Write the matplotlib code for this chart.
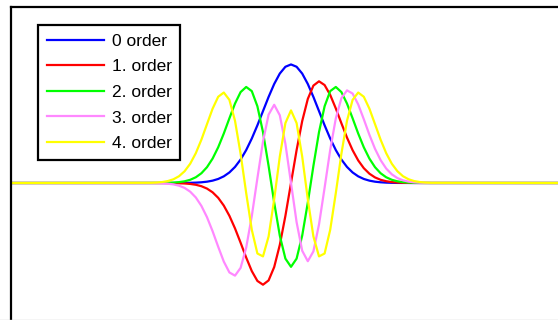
import matplotlib
matplotlib.use("Agg")
import matplotlib.pyplot as plt
from matplotlib.lines import Line2D

plt.rcParams['font.family'] = ['Liberation Sans', 'DejaVu Sans']

labels = ["0 order", "1. order", "2. order", "3. order", "4. order"]
colors = ["#0000ff", "#ff0000", "#00ff00", "#ff88ff", "#ffff00"]

x = [-10.0,
     -5.0, -4.8, -4.6, -4.4, -4.2, -4.0, -3.8, -3.6, -3.4, -3.2, -3.0, -2.8, -2.6,
     -2.4, -2.2, -2.0, -1.8, -1.6, -1.4, -1.2, -1.0, -0.8, -0.6, -0.4, -0.2, 0.0,
     0.2, 0.4, 0.6, 0.8, 1.0, 1.2, 1.4, 1.6, 1.8, 2.0, 2.2, 2.4, 2.6, 2.8, 3.0,
     3.2, 3.4, 3.6, 3.8, 4.0, 4.2, 4.4, 4.6, 4.8, 5.0,
     10.0]

order0 = [0.0,
          0.0, 0.0, 0.0, 0.0, 0.0001, 0.0003, 0.0005, 0.0012, 0.0023, 0.0045, 0.0083,
          0.0149, 0.0256, 0.0422, 0.0668, 0.1017, 0.1486, 0.2088, 0.2819, 0.3656,
          0.4556, 0.5454, 0.6274, 0.6934, 0.7363, 0.7511,
          0.7363, 0.6934, 0.6274, 0.5454, 0.4556, 0.3656, 0.2819, 0.2088, 0.1486,
          0.1017, 0.0668, 0.0422, 0.0256, 0.0149, 0.0083, 0.0045, 0.0023, 0.0012,
          0.0005, 0.0003, 0.0001, 0.0, 0.0, 0.0, 0.0,
          0.0]

order1 = [0.0,
          -0.0, -0.0001, -0.0001, -0.0003, -0.0007, -0.0014, -0.0030, -0.0059, -0.0112,
          -0.0203, -0.0354, -0.0590, -0.0940, -0.1431, -0.2078, -0.2875, -0.3784,
          -0.4725, -0.5581, -0.6205, -0.6443, -0.6171, -0.5324, -0.3922, -0.2083, 0.0,
          0.2083, 0.3922, 0.5324, 0.6171, 0.6443, 0.6205, 0.5581, 0.4725, 0.3784,
          0.2875, 0.2078, 0.1431, 0.0940, 0.0590, 0.0354, 0.0203, 0.0112, 0.0059,
          0.0030, 0.0014, 0.0007, 0.0003, 0.0001, 0.0001, 0.0,
          0.0]

order2 = [0.0,
          0.0001, 0.0002, 0.0006, 0.0013, 0.0027, 0.0055, 0.0108, 0.0203, 0.0363,
          0.0618, 0.1003, 0.1547, 0.2264, 0.3136, 0.4099, 0.5032, 0.5760, 0.6084,
          0.5821, 0.4860, 0.3221, 0.1080, -0.1242, -0.3334, -0.4790, -0.5311,
          -0.4790, -0.3334, -0.1242, 0.1080, 0.3221, 0.4860, 0.5821, 0.6084, 0.5760,
          0.5032, 0.4099, 0.3136, 0.2264, 0.1547, 0.1003, 0.0618, 0.0363, 0.0203,
          0.0108, 0.0055, 0.0027, 0.0013, 0.0006, 0.0002, 0.0001,
          0.0]

order3 = [0.0,
          -0.0004, -0.0009, -0.0020, -0.0043, -0.0087, -0.0169, -0.0312, -0.0549,
          -0.0916, -0.1450, -0.2168, -0.3055, -0.4039, -0.4978, -0.5667, -0.5869,
          -0.5376, -0.4090, -0.2096, 0.0304, 0.2630, 0.4333, 0.4955, 0.4291, 0.2482, 0.0,
          -0.2482, -0.4291, -0.4955, -0.4333, -0.2630, -0.0304, 0.2096, 0.4090, 0.5376,
          0.5869, 0.5667, 0.4978, 0.4039, 0.3055, 0.2168, 0.1450, 0.0916, 0.0549,
          0.0312, 0.0169, 0.0087, 0.0043, 0.0020, 0.0009, 0.0004,
          0.0]

order4 = [0.0,
          0.0013, 0.0028, 0.0060, 0.0122, 0.0235, 0.0429, 0.0745, 0.1221, 0.1889,
          0.2745, 0.3730, 0.4709, 0.5464, 0.5731, 0.5266, 0.3943, 0.1854, -0.0642,
          -0.2966, -0.4467, -0.4650, -0.3386, -0.1027, 0.1674, 0.3797, 0.4600,
          0.3797, 0.1674, -0.1027, -0.3386, -0.4650, -0.4467, -0.2966, -0.0642, 0.1854,
          0.3943, 0.5266, 0.5731, 0.5464, 0.4709, 0.3730, 0.2745, 0.1889, 0.1221,
          0.0745, 0.0429, 0.0235, 0.0122, 0.0060, 0.0028, 0.0013,
          0.0]

series = [order0, order1, order2, order3, order4]

W, H = 558, 320
fig = plt.figure(figsize=(W / 100, H / 100), dpi=100)
fig.patch.set_facecolor("white")
ax = fig.add_axes([11 / W, -39 / H, 560 / W, 352 / H])

for ys, c, lab in zip(series, colors, labels):
    ax.plot(x, ys, color=c, lw=1.6, label=lab, solid_joinstyle="round")

ax.set_xlim(-10, 10)
ax.set_ylim(-1.115, 1.115)
ax.set_xticks([])
ax.set_yticks([])
for s in ax.spines.values():
    s.set_color("black")
    s.set_linewidth(1.6)

leg = ax.legend(loc="upper left", bbox_to_anchor=(38 / W, 1 - 25 / H),
                bbox_transform=fig.transFigure, borderaxespad=0,
                fontsize=12.5, handlelength=3.3, handletextpad=0.45,
                labelspacing=0.6, borderpad=0.5, fancybox=False,
                framealpha=1, edgecolor="black")
leg.get_frame().set_linewidth(1.6)

fig.add_artist(Line2D([0, 1], [0.5 / H, 0.5 / H], transform=fig.transFigure,
                      color="#cccccc", lw=1))

fig.savefig("out.png", dpi=100)
